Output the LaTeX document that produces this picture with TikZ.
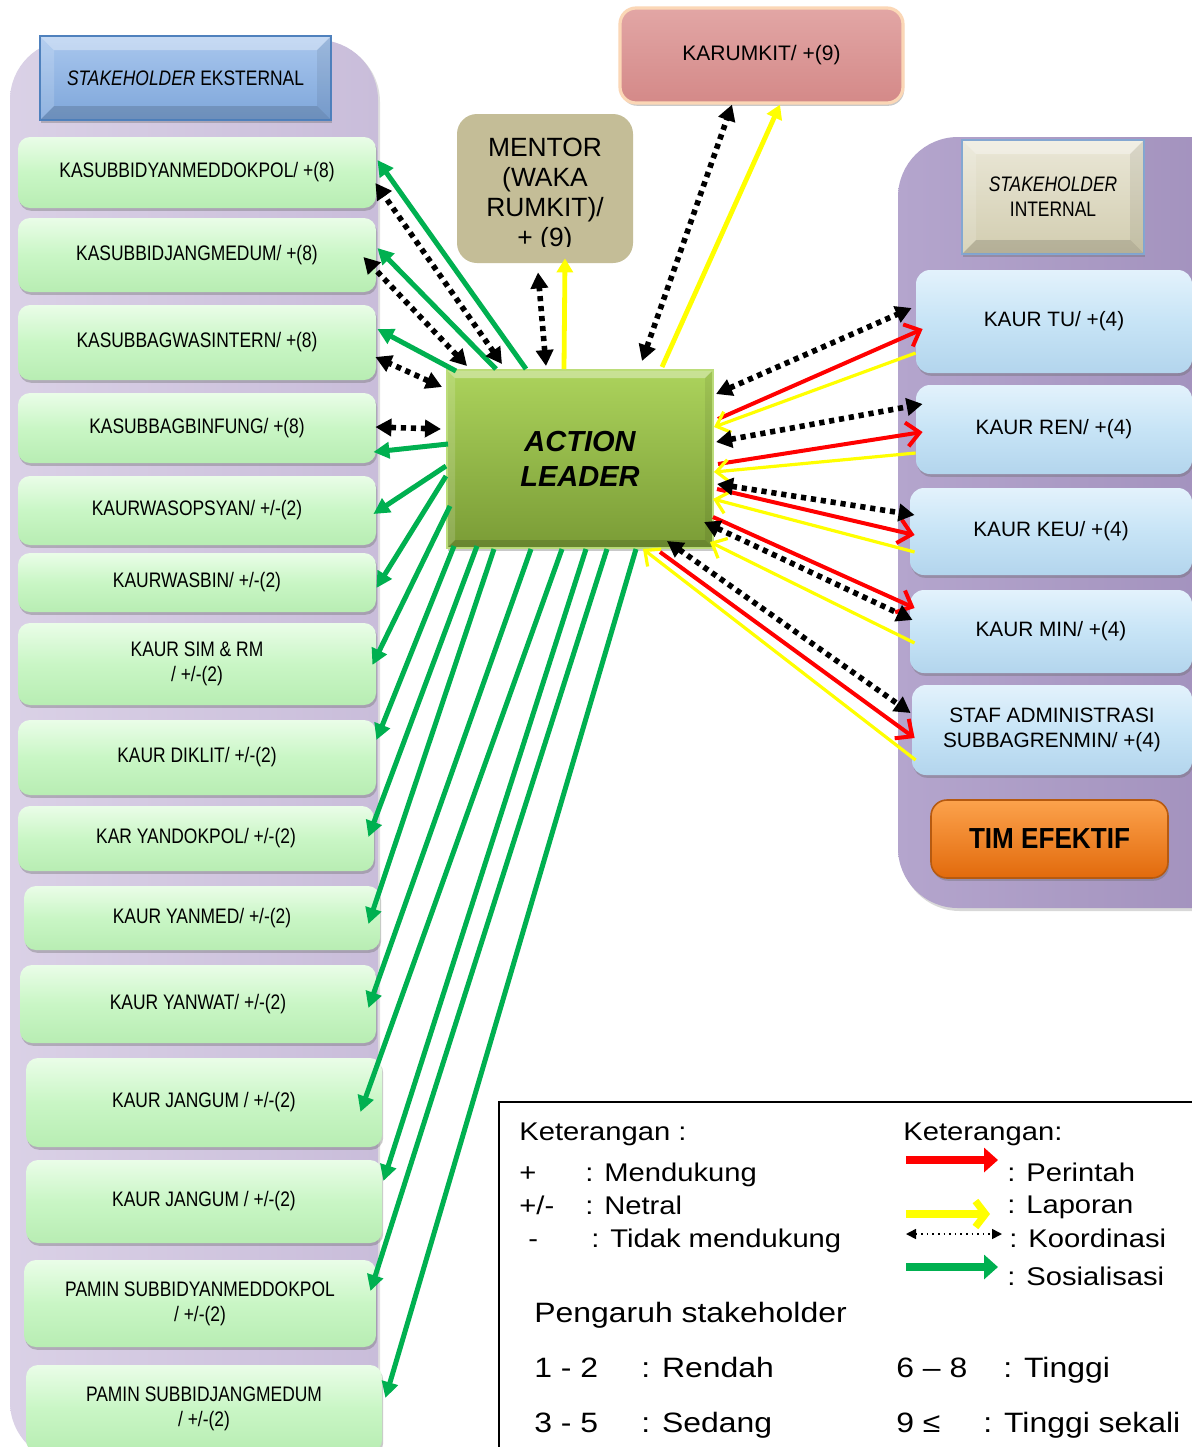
\documentclass[tikz,border=0pt]{standalone}
\usepackage{fontspec}
\setmainfont{Liberation Sans}
\newfontfamily\lnarrow{Liberation Sans}[FakeStretch=0.83]
\newfontfamily\lmid{Liberation Sans}[FakeStretch=0.9]
\newfontfamily\lwide{Liberation Sans}[FakeStretch=1.14]
\usetikzlibrary{arrows.meta,calc,shadows}

\definecolor{lgTop}{HTML}{EAFDE8}
\definecolor{lgMid}{HTML}{C9F6C5}
\definecolor{lgBot}{HTML}{B8EDB3}
\definecolor{lbTop}{HTML}{E3F2FC}
\definecolor{lbMid}{HTML}{C7E4F6}
\definecolor{lbBot}{HTML}{B3D5ED}
\definecolor{contL}{HTML}{DAD1E6}
\definecolor{contLr}{HTML}{C9BDDA}
\definecolor{contR}{HTML}{B4A5CD}
\definecolor{contRr}{HTML}{A08FBB}
\definecolor{alTop}{HTML}{ACD35C}
\definecolor{alBot}{HTML}{7A9C36}
\definecolor{alEdge}{HTML}{BCDD7A}
\definecolor{mentorC}{HTML}{C4BD97}
\definecolor{karTop}{HTML}{E2A6A5}
\definecolor{karBot}{HTML}{D48988}
\definecolor{karEdge}{HTML}{FBD7B6}
\definecolor{extTop}{HTML}{A9C7EE}
\definecolor{extBot}{HTML}{7EA6DA}
\definecolor{hdrEdge}{HTML}{4F81BD}
\definecolor{intTop}{HTML}{EAE7D7}
\definecolor{intBot}{HTML}{D2CDB0}
\definecolor{timTop}{HTML}{FCA24C}
\definecolor{timBot}{HTML}{E26A0C}
\definecolor{timEdge}{HTML}{B65A10}
\definecolor{sosC}{HTML}{00B050}
\definecolor{perC}{HTML}{FF0000}
\definecolor{lapC}{HTML}{FFFF00}

% box from its two corner points, in pixel units
\newcommand\mkbox[7]{\node[#1,minimum width={(#5-#3)*0.5pt},minimum height={(#6-#4)*0.5pt}] (#2) at ({(#3+#5)/2},{(#4+#6)/2}) {#7};}
% bevelled frame inside a rectangle: x1 y1 x2 y2 depth
\newcommand\bevelframe[5]{%
  \fill[white,opacity=0.35] (#1,#2) -- (#3,#2) -- ({#3-#5},{#2+#5}) -- ({#1+#5},{#2+#5}) -- cycle;
  \fill[white,opacity=0.15] (#1,#2) -- ({#1+#5},{#2+#5}) -- ({#1+#5},{#4-#5}) -- (#1,#4) -- cycle;
  \fill[black,opacity=0.07] (#3,#2) -- ({#3-#5},{#2+#5}) -- ({#3-#5},{#4-#5}) -- (#3,#4) -- cycle;
  \fill[black,opacity=0.14] (#1,#4) -- ({#1+#5},{#4-#5}) -- ({#3-#5},{#4-#5}) -- (#3,#4) -- cycle;}

\begin{document}
\begin{tikzpicture}[x=0.5pt,y=-0.5pt,
  shadowed/.style={drop shadow={shadow xshift=0.6pt,shadow yshift=-1.4pt,opacity=0.35,fill=black!60}},
  lbox/.style={rectangle,rounded corners=6pt,top color=lgTop,bottom color=lgBot,middle color=lgMid,
    shadowed,align=center,inner sep=0pt,font=\lnarrow\fontsize{10.5}{12.5}\selectfont},
  rbox/.style={rectangle,rounded corners=7pt,top color=lbTop,bottom color=lbBot,middle color=lbMid,
    shadowed,align=center,inner sep=0pt,font=\fontsize{10.4}{12.5}\selectfont},
  hdrext/.style={rectangle,top color=extTop,bottom color=extBot,draw=hdrEdge,line width=1pt,
    shadowed,align=center,inner sep=0pt,font=\lnarrow\fontsize{10.5}{12.5}\selectfont},
  hdrint/.style={rectangle,top color=intTop,bottom color=intBot,draw=hdrEdge!70,line width=1pt,
    shadowed,align=center,inner sep=0pt,font=\lnarrow\fontsize{10.5}{12.5}\selectfont},
  alstyle/.style={rectangle,top color=alTop,bottom color=alBot,draw=alEdge,line width=1pt,
    shadowed,align=center,inner sep=0pt,font=\bfseries\itshape\fontsize{14.5}{17.5}\selectfont},
  mentorbox/.style={rectangle,rounded corners=10pt,fill=mentorC,inner sep=0pt},
  karbox/.style={rectangle,rounded corners=8pt,top color=karTop,bottom color=karBot,draw=karEdge,
    line width=1.6pt,shadowed,inner sep=0pt,font=\fontsize{10.5}{12.5}\selectfont},
  timbox/.style={rectangle,rounded corners=8pt,top color=timTop,bottom color=timBot,draw=timEdge,
    line width=0.8pt,shadowed,inner sep=0pt,font=\lmid\bfseries\fontsize{14.5}{16}\selectfont},
  plain/.style={inner sep=0pt,align=center},
  legtxt/.style={anchor=base west,inner sep=0pt,font=\lwide\fontsize{12.8}{14}\selectfont},
  legbig/.style={anchor=base west,inner sep=0pt,font=\lwide\fontsize{14}{16}\selectfont},
  sos/.style={draw=sosC,line width=2.5pt,-{Triangle[length=8pt,width=8pt]}},
  koor/.style={draw=black,line width=2.8pt,dash pattern=on 2.6pt off 2.4pt,
    {Triangle[length=8pt,width=8.5pt]}-{Triangle[length=8pt,width=8.5pt]}},
  per/.style={draw=perC,line width=2pt,-{Straight Barb[length=6.5pt,width=12pt]}},
  lap/.style={draw=lapC,line width=1.6pt,-{Straight Barb[length=6pt,width=11pt]}},
  lapup/.style={draw=lapC,line width=2.4pt,-{Triangle[length=7pt,width=8pt]}},
  legper/.style={draw=perC,line width=3.6pt,-{Triangle[length=7pt,width=12pt]}},
  legsos/.style={draw=sosC,line width=3.6pt,-{Triangle[length=7pt,width=12pt]}},
  leglap/.style={draw=lapC,line width=3.6pt,-{Straight Barb[length=5pt,width=13pt]}},
  legkoor/.style={draw=black,line width=0.8pt,dotted,
    {Triangle[length=5pt,width=5pt]}-{Triangle[length=5pt,width=5pt]}}
]
\useasboundingbox (0,0) rectangle (1192,1447);
\fill[white] (0,0) rectangle (1192,1447);

% the two group panels
\shade[left color=contL,right color=contLr,rounded corners=30pt,drop shadow={shadow xshift=1pt,shadow yshift=-1pt,opacity=0.25}]
  (10,40) rectangle (378,1462);
\shade[left color=contR,right color=contRr,rounded corners=30pt,drop shadow={shadow xshift=1pt,shadow yshift=-1.5pt,opacity=0.3}]
  (898,137) rectangle (1260,908);

% headers
\mkbox{hdrext}{ext}{40}{36}{331}{120}{}
\bevelframe{41}{37}{330}{119}{13}
\node[plain,font=\lnarrow\fontsize{10.5}{12.5}\selectfont] (exttext) at (ext.center) {\textit{STAKEHOLDER} EKSTERNAL};
\mkbox{hdrint}{int}{962}{140}{1144}{254}{}
\bevelframe{963}{141}{1143}{253}{13}
\node[plain,font=\lnarrow\fontsize{10.5}{12.5}\selectfont] (inttext) at (int.center) {\textit{STAKEHOLDER}\\INTERNAL};

% external stakeholders
\mkbox{lbox}{l1}{18}{137}{376}{208}{KASUBBIDYANMEDDOKPOL/ +(8)}
\mkbox{lbox}{l2}{18}{218}{376}{292}{KASUBBIDJANGMEDUM/ +(8)}
\mkbox{lbox}{l3}{18}{305}{376}{380}{KASUBBAGWASINTERN/ +(8)}
\mkbox{lbox}{l4}{18}{393}{376}{463}{KASUBBAGBINFUNG/ +(8)}
\mkbox{lbox}{l5}{18}{476}{376}{545}{KAURWASOPSYAN/ +/-(2)}
\mkbox{lbox}{l6}{18}{553}{376}{612}{KAURWASBIN/ +/-(2)}
\mkbox{lbox}{l7}{18}{623}{376}{705}{KAUR SIM \& RM\\/ +/-(2)}
\mkbox{lbox}{l8}{18}{720}{376}{795}{KAUR DIKLIT/ +/-(2)}
\mkbox{lbox}{l9}{18}{806}{374}{871}{KAR YANDOKPOL/ +/-(2)}
\mkbox{lbox}{l10}{24}{886}{380}{950}{KAUR YANMED/ +/-(2)}
\mkbox{lbox}{l11}{20}{965}{376}{1043}{KAUR YANWAT/ +/-(2)}
\mkbox{lbox}{l12}{26}{1058}{382}{1147}{KAUR JANGUM / +/-(2)}
\mkbox{lbox}{l13}{26}{1160}{382}{1243}{KAUR JANGUM / +/-(2)}
\mkbox{lbox}{l14}{24}{1260}{376}{1347}{PAMIN SUBBIDYANMEDDOKPOL\\/ +/-(2)}
\mkbox{lbox}{l15}{26}{1365}{382}{1452}{PAMIN SUBBIDJANGMEDUM\\/ +/-(2)}

% internal stakeholders
\mkbox{rbox}{r1}{916}{270}{1192}{373}{KAUR TU/ +(4)}
\mkbox{rbox}{r2}{916}{385}{1192}{474}{KAUR REN/ +(4)}
\mkbox{rbox}{r3}{910}{488}{1192}{575}{KAUR KEU/ +(4)}
\mkbox{rbox}{r4}{910}{590}{1192}{673}{KAUR MIN/ +(4)}
\mkbox{rbox}{r5}{912}{685}{1192}{775}{STAF ADMINISTRASI\\SUBBAGRENMIN/ +(4)}
\mkbox{timbox}{tim}{931}{800}{1168}{878}{TIM EFEKTIF}

% leader, mentor and head of hospital
\mkbox{alstyle}{al}{447}{370}{713}{548}{}
\bevelframe{448}{371}{712}{547}{7}
\node[plain,font=\bfseries\itshape\fontsize{14.5}{17.5}\selectfont] (altext) at (al.center) {ACTION\\LEADER};
\mkbox{mentorbox}{mentor}{457}{114}{633}{263}{}
\begin{scope}
  \clip (457,114) rectangle (633,246);
  \node[inner sep=0pt,align=center,font=\fontsize{13.2}{15}\selectfont] (mentortext) at (545,195)
    {MENTOR\\(WAKA\\RUMKIT)/\\+ (9)};
\end{scope}
\mkbox{karbox}{karumkit}{620}{8}{903}{103}{KARUMKIT/ +(9)}

% sosialisasi to the external stakeholders
\draw[sos] ($(al.north west)+(80,0)$) -- ($(l1.east)+(1,-12.5)$);
\draw[sos] ($(al.north west)+(50,0)$) -- ($(l2.east)+(1,-7)$);
\draw[sos] ($(al.north west)+(10,2)$) -- ($(l3.east)+(1,-13.5)$);
\draw[sos] ($(al.north west)+(2,75)$) -- ($(l4.east)+(-3,24)$);
\draw[sos] ($(al.north west)+(0,97)$) -- ($(l5.east)+(-3,3.5)$);
\draw[sos] ($(al.north west)+(0,107)$) -- ($(l6.east)+(0,5.5)$);
\draw[sos] ($(al.north west)+(4,137)$) -- ($(l7.east)+(-4,1)$);
\draw[sos] ($(al.south west)+(8,-3)$) -- ($(l8.east)+(0,-17.5)$);
\draw[sos] ($(al.south west)+(31,-3)$) -- ($(l9.east)+(-6,-1.5)$);
\draw[sos] ($(al.south west)+(48,0)$) -- ($(l10.east)+(-12,6)$);
\draw[sos] ($(al.south west)+(85,0)$) -- ($(l11.east)+(-8,4)$);
\draw[sos] ($(al.south west)+(116,0)$) -- ($(l12.east)+(-22,9.5)$);
\draw[sos] ($(al.south west)+(140,0)$) -- ($(l13.east)+(1,-20.5)$);
\draw[sos] ($(al.south west)+(161,0)$) -- ($(l14.east)+(-6,-12.5)$);
\draw[sos] ($(al.south west)+(190,0)$) -- ($(l15.east)+(3,-10.5)$);

% koordinasi with the external stakeholders
\draw[koor] ($(al.north west)+(56,-5)$) -- ($(l1.east)+(-1,10.5)$);
\draw[koor] ($(al.north west)+(21,-3)$) -- ($(l2.east)+(-13,2)$);
\draw[koor] ($(al.north west)+(-4,18)$) -- ($(l3.east)+(-1,14.5)$);
\draw[koor] ($(al.north west)+(-5,60)$) -- ($(l4.east)+(-1,-1)$);

% mentor and karumkit
\draw[koor] ($(al.north west)+(100,-3)$) -- ($(mentor.south)+(-7,9)$);
\draw[lapup] ($(al.north west)+(118,0)$) -- ($(mentor.south)+(20,-5)$);
\draw[koor] ($(al.north west)+(196,-8)$) -- ($(karumkit.south)+(-29.5,0)$);
\draw[lapup] ($(al.north west)+(216,-2)$) -- ($(karumkit.south)+(18.5,0)$);

% internal stakeholders: perintah, laporan, koordinasi
\draw[per] ($(al.north east)+(4,50)$) -- ($(r1.west)+(7,7.5)$);
\draw[lap] ($(r1.west)+(0,31.5)$) -- ($(al.north east)+(0,58)$);
\draw[koor] ($(al.north east)+(2,25)$) -- ($(r1.west)+(-4,-13.5)$);

\draw[per] ($(al.north east)+(4,95)$) -- ($(r2.west)+(7,2.5)$);
\draw[lap] ($(r2.west)+(0,23.5)$) -- ($(al.north east)+(0,103)$);
\draw[koor] ($(al.north east)+(2,73)$) -- ($(r2.west)+(7,-25.5)$);

\draw[per] ($(al.north east)+(3,120)$) -- ($(r3.west)+(5,3.5)$);
\draw[lap] ($(r3.west)+(5,20.5)$) -- ($(al.north east)+(-1,130)$);
\draw[koor] ($(al.north east)+(3,115)$) -- ($(r3.west)+(5,-16.5)$);

\draw[per] ($(al.north east)+(-1,148)$) -- ($(r4.west)+(5,-23.5)$);
\draw[lap] ($(r4.west)+(5,11.5)$) -- ($(al.north east)+(-4,173)$);
\draw[koor] ($(al.north east)+(-10,153)$) -- ($(r4.west)+(3,-11.5)$);

\draw[per] ($(al.north east)+(-54,183)$) -- ($(r5.west)+(3,8)$);
\draw[lap] ($(r5.west)+(4,30)$) -- ($(al.north east)+(-71,180)$);
\draw[koor] ($(al.north east)+(-47,172)$) -- ($(r5.west)+(-1,-17)$);

% legend
\draw[black,line width=0.6pt] (1260,1102) -- (499,1102) -- (499,1480);
\node[legtxt] (k1) at (519,1140) {Keterangan :};
\node[legtxt] (k2) at (519,1181) {+};
\node[legtxt] (k3) at (585,1181) {: Mendukung};
\node[legtxt] (k4) at (519,1214) {+/-};
\node[legtxt] (k5) at (585,1214) {: Netral};
\node[legtxt] (k6) at (528,1247) {-};
\node[legtxt] (k7) at (591,1247) {: Tidak mendukung};
\node[legbig] (p1) at (534,1322) {Pengaruh stakeholder};
\node[legbig] (p2) at (534,1377) {1 - 2};
\node[legbig] (p3) at (641,1377) {: Rendah};
\node[legbig] (p4) at (534,1432) {3 - 5};
\node[legbig] (p5) at (641,1432) {: Sedang};
\node[legbig] (p6) at (896,1377) {6 – 8};
\node[legbig] (p7) at (1003,1377) {: Tinggi};
\node[legbig] (p8) at (896,1432) {9 ≤};
\node[legbig] (p9) at (983,1432) {: Tinggi sekali};
\node[legtxt] (q0) at (903,1140) {Keterangan:};
\node[legtxt] (q1) at (1007,1181) {: Perintah};
\node[legtxt] (q2) at (1007,1213) {: Laporan};
\node[legtxt] (q3) at (1009,1247) {: Koordinasi};
\node[legtxt] (q4) at (1007,1285) {: Sosialisasi};
\coordinate (a1) at (906,1160); \coordinate (b1) at (998,1160);
\coordinate (a2) at (906,1214); \coordinate (b2) at (990,1214);
\coordinate (a3) at (906,1234); \coordinate (b3) at (1002,1234);
\coordinate (a4) at (906,1267); \coordinate (b4) at (998,1267);
\draw[legper] (a1) -- (b1);
\draw[leglap] (a2) -- (b2);
\draw[legkoor] (a3) -- (b3);
\draw[legsos] (a4) -- (b4);
\end{tikzpicture}
\end{document}
